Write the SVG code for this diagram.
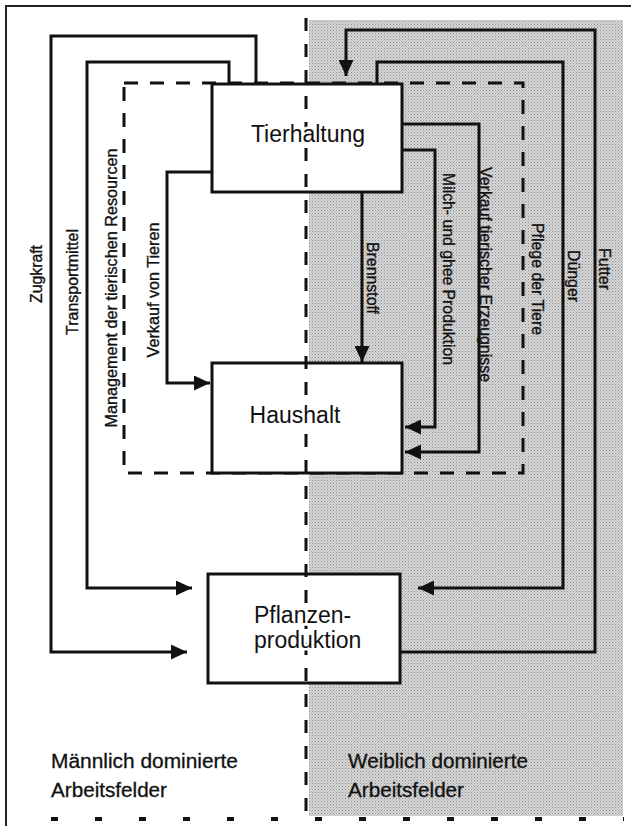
<svg xmlns="http://www.w3.org/2000/svg" width="631" height="826" viewBox="0 0 631 826">
  <style>
    .ln { fill: none; stroke: #111; stroke-width: 3; stroke-linejoin: miter; }
    .box { fill: #fff; stroke: #111; stroke-width: 3; }
    .dash { fill: none; stroke: #111; stroke-width: 3; }
    .lbl { font-family: "Liberation Sans", Arial, sans-serif; font-size: 16px; fill: #111; stroke: #111; stroke-width: 0.35; }
    .node { font-family: "Liberation Sans", Arial, sans-serif; font-size: 23px; fill: #111; paint-order: stroke; stroke: #fff; stroke-width: 5; }
    .area { font-family: "Liberation Sans", Arial, sans-serif; font-size: 20px; fill: #111; stroke: #111; stroke-width: 0.3; }
  </style>
  <defs>
    <pattern id="stipple" width="3" height="3" patternUnits="userSpaceOnUse">
      <rect width="3" height="3" fill="#d6d6d6"/>
      <rect x="0" y="0" width="1" height="1" fill="#8c8c8c"/>
      <rect x="1.5" y="1.5" width="1" height="1" fill="#a4a4a4"/>
    </pattern>
    <marker id="ah" viewBox="0 0 16 15" refX="16" refY="7.5" markerWidth="16" markerHeight="15" markerUnits="userSpaceOnUse" orient="auto">
      <path d="M0,0 L16,7.5 L0,15 Z" fill="#111"/>
    </marker>
  </defs>

  <!-- background and frame -->
  <rect width="631" height="826" fill="#fff"/>
  <g id="female-area">
    <rect x="309" y="20" width="314" height="796" fill="url(#stipple)"/>
  </g>
  <g id="frame">
    <path d="M6,826 V6 H631" fill="none" stroke="#222" stroke-width="2"/>
    <path d="M51,819 H624" fill="none" stroke="#111" stroke-width="4" stroke-dasharray="7 37"/>
  </g>

  <!-- dashed "Management / Pflege" region -->
  <g id="livestock-management-region">
    <rect x="124" y="83" width="399" height="390" class="dash" stroke-dasharray="14 12"/>
  </g>

  <!-- connectors -->
  <g id="connectors">
    <path id="c-zugkraft" class="ln" d="M256,84 V36 H51 V652 H187" marker-end="url(#ah)"/>
    <path id="c-transport" class="ln" d="M229,84 V62 H87 V588 H192" marker-end="url(#ah)"/>
    <path id="c-verkauf-tiere" class="ln" d="M212,172 H167 V383 H210" marker-end="url(#ah)"/>
    <path id="c-brennstoff" class="ln" d="M362,192 V362" marker-end="url(#ah)"/>
    <path id="c-milch" class="ln" d="M402,150 H435 V427 H405" marker-end="url(#ah)"/>
    <path id="c-verkauf-erzeugnisse" class="ln" d="M402,124 H479 V452 H405" marker-end="url(#ah)"/>
    <path id="c-duenger" class="ln" d="M377,84 V62 H563 V588 H418" marker-end="url(#ah)"/>
    <path id="c-futter" class="ln" d="M400,652 H595 V30 H346 V76" marker-end="url(#ah)"/>
  </g>

  <!-- nodes -->
  <g id="tierhaltung">
    <rect class="box" x="212" y="84" width="190" height="108"/>
  </g>
  <g id="haushalt">
    <rect class="box" x="212" y="363" width="190" height="110"/>
  </g>
  <g id="pflanzenproduktion">
    <rect class="box" x="208" y="574" width="192" height="109"/>
  </g>

  <!-- divider between male / female dominated fields -->
  <g id="divider">
    <path d="M306,18 V818" fill="none" stroke="#111" stroke-width="3" stroke-dasharray="13 13"/>
  </g>

  <!-- node labels -->
  <g id="node-labels">
    <text class="node" x="308" y="141.5" text-anchor="middle">Tierhaltung</text>
    <text class="node" x="295" y="423" text-anchor="middle">Haushalt</text>
    <text class="node" x="254" y="623">Pflanzen-</text>
    <text class="node" x="254" y="648">produktion</text>
  </g>

  <!-- connector labels -->
  <g id="connector-labels">
    <text class="lbl" transform="translate(41.5,274) rotate(-90)" text-anchor="middle" textLength="58" lengthAdjust="spacingAndGlyphs">Zugkraft</text>
    <text class="lbl" transform="translate(78,282) rotate(-90)" text-anchor="middle" textLength="106" lengthAdjust="spacingAndGlyphs">Transportmittel</text>
    <text class="lbl" transform="translate(116.5,288) rotate(-90)" text-anchor="middle" textLength="279" lengthAdjust="spacingAndGlyphs">Management der tierischen Resourcen</text>
    <text class="lbl" transform="translate(159,290) rotate(-90)" text-anchor="middle" textLength="135" lengthAdjust="spacingAndGlyphs">Verkauf von Tieren</text>
    <text class="lbl" transform="translate(366.5,278) rotate(90)" text-anchor="middle" textLength="72" lengthAdjust="spacingAndGlyphs">Brennstoff</text>
    <text class="lbl" transform="translate(442.5,269) rotate(90)" text-anchor="middle" textLength="192" lengthAdjust="spacingAndGlyphs">Milch- und ghee Produktion</text>
    <text class="lbl" transform="translate(480,274.5) rotate(90)" text-anchor="middle" textLength="215" lengthAdjust="spacingAndGlyphs">Verkauf tierischer Erzeugnisse</text>
    <text class="lbl" transform="translate(531.5,279) rotate(90)" text-anchor="middle" textLength="112" lengthAdjust="spacingAndGlyphs">Pflege der Tiere</text>
    <text class="lbl" transform="translate(568,276) rotate(90)" text-anchor="middle" textLength="52" lengthAdjust="spacingAndGlyphs">Dünger</text>
    <text class="lbl" transform="translate(598.5,269) rotate(90)" text-anchor="middle" textLength="42" lengthAdjust="spacingAndGlyphs">Futter</text>
  </g>

  <!-- area labels -->
  <g id="area-labels">
    <text class="area" x="51" y="768" textLength="187" lengthAdjust="spacingAndGlyphs">Männlich dominierte</text>
    <text class="area" x="51" y="797" textLength="116" lengthAdjust="spacingAndGlyphs">Arbeitsfelder</text>
    <text class="area" x="348" y="768" textLength="180" lengthAdjust="spacingAndGlyphs">Weiblich dominierte</text>
    <text class="area" x="348" y="797" textLength="116" lengthAdjust="spacingAndGlyphs">Arbeitsfelder</text>
  </g>
</svg>
